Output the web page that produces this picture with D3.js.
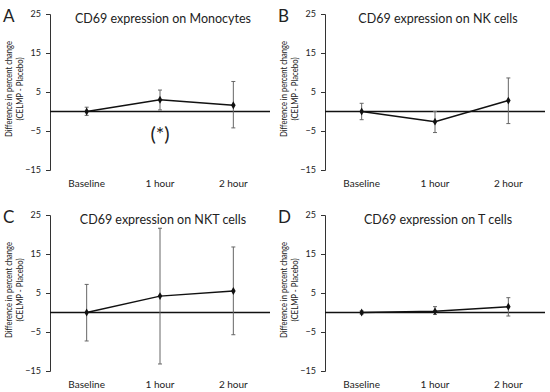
<!DOCTYPE html>
<html>
<head>
<meta charset="utf-8">
<script src="https://cdn.jsdelivr.net/npm/d3@7"></script>
<style>
  body { margin: 0; background: #fff; }
  text { font-family: Lato, "Open Sans", sans-serif; fill: #222; }
</style>
</head>
<body>
<svg width="550" height="392"></svg>
<script>
const categories = ["Baseline", "1 hour", "2 hour"];
const yTicks = [25, 15, 5, -5, -15];

const panelLetters = ["A", "B", "C", "D"];
const panelTitles = [
  "CD69 expression on Monocytes",
  "CD69 expression on NK cells",
  "CD69 expression on NKT cells",
  "CD69 expression on T cells"
];

// mean difference and error bar ends, per panel
const monoMean  = [0, 3.0, 1.6];
const monoUpper = [1.1, 5.5, 7.7];
const monoLower = [-1.0, 0.4, -4.2];

const nkMean  = [0, -2.6, 2.8];
const nkUpper = [2.1, 0, 8.6];
const nkLower = [-2.1, -5.4, -3.1];

const nktMean  = [0, 4.2, 5.5];
const nktUpper = [7.2, 21.6, 16.8];
const nktLower = [-7.3, -13.2, -5.7];

const tMean  = [0, 0.3, 1.5];
const tUpper = [0.4, 1.5, 3.8];
const tLower = [-0.4, -0.5, -0.9];

const means  = [monoMean, nkMean, nktMean, tMean];
const uppers = [monoUpper, nkUpper, nktUpper, tUpper];
const lowers = [monoLower, nkLower, nktLower, tLower];

const svg = d3.select("svg");
const origins = [[0, 0], [275, 0], [0, 201], [275, 201]];

const x = d3.scalePoint().domain(categories).range([50, 270]).padding(0.5);
const y = d3.scaleLinear().domain([-15, 25]).range([170, 14]);

origins.forEach((o, i) => {
  const g = svg.append("g").attr("transform", `translate(${o[0]},${o[1]})`);

  // panel letter
  g.append("text").attr("x", 3).attr("y", 22)
    .style("font-size", "17px").text(panelLetters[i]);

  // title
  g.append("text").attr("x", 163).attr("y", 23)
    .attr("text-anchor", "middle").style("font-size", "12.5px")
    .text(panelTitles[i]);

  // y axis
  const yAxis = d3.axisLeft(y).tickValues(yTicks).tickSize(4).tickPadding(5);
  const ya = g.append("g").attr("transform", "translate(50,0)").call(yAxis);
  ya.select(".domain").attr("stroke", "#333");
  ya.selectAll(".tick line").attr("stroke", "#333");
  ya.selectAll(".tick text").style("font-size", "9px").style("font-family", "Lato, sans-serif").attr("fill", "#333");

  // y label (two lines)
  const yl = g.append("text").attr("transform", `translate(12,${y(5) - 3}) rotate(-90)`)
    .attr("text-anchor", "middle").style("font-size", "9.5px");
  yl.append("tspan").attr("x", 0).attr("dy", 0)
    .attr("textLength", 96).attr("lengthAdjust", "spacingAndGlyphs")
    .text("Difference in percent change");
  yl.append("tspan").attr("x", 0).attr("dy", 11)
    .attr("textLength", 63).attr("lengthAdjust", "spacingAndGlyphs")
    .text("(CELMP - Placebo)");

  // zero line
  g.append("line").attr("x1", 50).attr("x2", 270)
    .attr("y1", y(0)).attr("y2", y(0))
    .attr("stroke", "#111").attr("stroke-width", 1.5);

  // x category labels
  g.selectAll(".xl").data(categories).enter().append("text")
    .attr("class", "xl")
    .attr("x", d => x(d)).attr("y", 187)
    .attr("text-anchor", "middle").style("font-size", "10px")
    .text(d => d);

  const rows = categories.map((c, j) => ({c, m: means[i][j], hi: uppers[i][j], lo: lowers[i][j]}));

  // error bars
  const eb = g.selectAll(".eb").data(rows).enter().append("g").attr("class", "eb")
    .attr("stroke", "#666").attr("stroke-width", 1);
  eb.append("line").attr("x1", d => x(d.c)).attr("x2", d => x(d.c))
    .attr("y1", d => y(d.hi)).attr("y2", d => y(d.lo));
  eb.append("line").attr("x1", d => x(d.c) - 2).attr("x2", d => x(d.c) + 2)
    .attr("y1", d => y(d.hi)).attr("y2", d => y(d.hi));
  eb.append("line").attr("x1", d => x(d.c) - 2).attr("x2", d => x(d.c) + 2)
    .attr("y1", d => y(d.lo)).attr("y2", d => y(d.lo));

  // mean line
  const line = d3.line().x(d => x(d.c)).y(d => y(d.m));
  g.append("path").datum(rows).attr("d", line)
    .attr("fill", "none").attr("stroke", "#111").attr("stroke-width", 1.5);

  g.selectAll(".pt").data(rows).enter().append("path")
    .attr("class", "pt")
    .attr("d", d3.symbol(d3.symbolDiamond, 18))
    .attr("transform", d => `translate(${x(d.c)},${y(d.m)})`)
    .attr("fill", "#111");

  // significance mark on panel A
  if (i === 0) {
    g.append("text").attr("x", x("1 hour")).attr("y", 141)
      .attr("text-anchor", "middle").style("font-size", "20px")
      .text("(*)");
  }
});
</script>
</body>
</html>
